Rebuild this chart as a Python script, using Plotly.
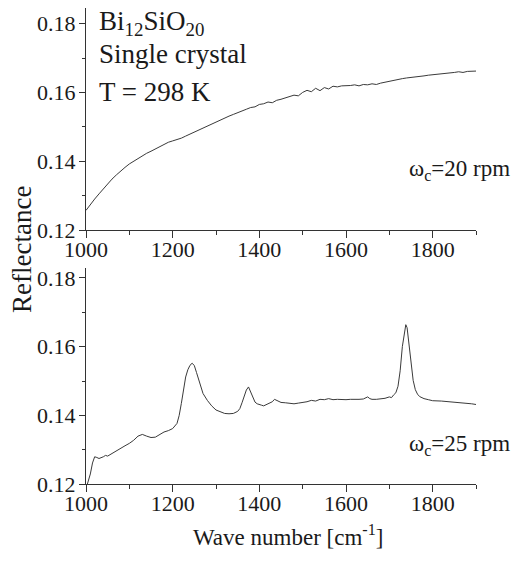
import plotly.graph_objects as go
from plotly.subplots import make_subplots

# top panel: omega_c = 20 rpm
wave_top = list(range(1000, 1901, 10))
refl_top = [
    0.1257, 0.1275, 0.1290, 0.1305, 0.1320, 0.1336, 0.1348, 0.1360, 0.1372, 0.1382,
    0.1392, 0.1400, 0.1408, 0.1416, 0.1423, 0.1429, 0.1436, 0.1442, 0.1448, 0.1455,
    0.1459, 0.1462, 0.1467, 0.1473, 0.1479, 0.1485, 0.1491, 0.1497, 0.1503, 0.1509,
    0.1513, 0.1519, 0.1525, 0.1531, 0.1536, 0.1542, 0.1546, 0.1551, 0.1556, 0.1558,
    0.1565, 0.1567, 0.1572, 0.1570, 0.1577, 0.1580, 0.1584, 0.1587, 0.1592, 0.1590,
    0.1600, 0.1606, 0.1602, 0.1612, 0.1605, 0.1614, 0.1610, 0.1618, 0.1616, 0.1619,
    0.1619, 0.1620, 0.1622, 0.1619, 0.1623, 0.1622, 0.1625, 0.1623, 0.1627, 0.1630,
    0.1633, 0.1636, 0.1637, 0.1640, 0.1642, 0.1643, 0.1645, 0.1647, 0.1648, 0.1650,
    0.1651, 0.1653, 0.1655, 0.1654, 0.1657, 0.1658, 0.1660, 0.1658, 0.1661, 0.1662,
    0.1662,
]

# bottom panel: omega_c = 25 rpm
wave_bot = [
    1003, 1010, 1015, 1020, 1025, 1030, 1040, 1045, 1050, 1055, 1060, 1070, 1080,
    1090, 1100, 1110, 1120, 1130, 1140, 1150, 1160, 1170, 1180, 1190, 1200, 1210,
    1215, 1220, 1225, 1230, 1235, 1240, 1245, 1250, 1255, 1260, 1265, 1270, 1280,
    1290, 1300, 1310, 1320, 1330, 1340, 1350, 1355, 1360, 1365, 1370, 1375, 1380,
    1385, 1390, 1395, 1400, 1405, 1410, 1420, 1430, 1435, 1440, 1450, 1460, 1470,
    1480, 1490, 1500, 1510, 1520, 1530, 1540, 1550, 1560, 1570, 1580, 1590, 1600,
    1610, 1620, 1630, 1640, 1650, 1655, 1660, 1670, 1680, 1690, 1700, 1705, 1710,
    1715, 1720, 1725, 1730, 1735, 1738, 1741, 1745, 1750, 1755, 1760, 1765, 1770,
    1780, 1790, 1800, 1820, 1840, 1850, 1860, 1880, 1890, 1900,
]
refl_bot = [
    0.1200, 0.1230, 0.1262, 0.1280, 0.1278, 0.1275, 0.1280, 0.1284, 0.1282, 0.1286,
    0.1290, 0.1298, 0.1305, 0.1312, 0.1319, 0.1328, 0.1340, 0.1345, 0.1340, 0.1336,
    0.1337, 0.1344, 0.1352, 0.1356, 0.1362, 0.1377, 0.1400, 0.1435, 0.1475, 0.1512,
    0.1533, 0.1546, 0.1552, 0.1545, 0.1525, 0.1502, 0.1482, 0.1464, 0.1444, 0.1428,
    0.1416, 0.1410, 0.1406, 0.1405, 0.1406, 0.1412, 0.1420, 0.1437, 0.1458, 0.1474,
    0.1483, 0.1468, 0.1450, 0.1439, 0.1434, 0.1433, 0.1430, 0.1428, 0.1433, 0.1440,
    0.1447, 0.1444, 0.1438, 0.1437, 0.1435, 0.1434, 0.1436, 0.1437, 0.1440, 0.1444,
    0.1442, 0.1447, 0.1446, 0.1449, 0.1446, 0.1447, 0.1446, 0.1446, 0.1447, 0.1446,
    0.1447, 0.1448, 0.1454, 0.1449, 0.1447, 0.1447, 0.1448, 0.1450, 0.1454, 0.1452,
    0.1460, 0.1466, 0.1485, 0.1530, 0.1600, 0.1650, 0.1664, 0.1655, 0.1615, 0.1550,
    0.1502, 0.1475, 0.1462, 0.1455, 0.1449, 0.1446, 0.1443, 0.1442, 0.1440, 0.1440,
    0.1438, 0.1436, 0.1434, 0.1432,
]

x_ticks = [1000, 1200, 1400, 1600, 1800]
y_ticks = [0.12, 0.14, 0.16, 0.18]

# the page body adds an 8 px margin, so the figure is drawn 8 px smaller
# and every screen position below is shifted back by that much
OFF = 8
W, H = 523 - OFF, 562 - OFF
L, R = 86 - OFF, 476 - OFF
FONT = 'Liberation Serif, Times New Roman, serif'
INK = '#1a1a1a'
PX_PER_002 = 68.8


def px(x):
    return (x - OFF - L) / (R - L)


def py(y):
    return 1 - (y - OFF) / H


fig = make_subplots(rows=2, cols=1)
fig.add_trace(go.Scatter(x=wave_top, y=refl_top, mode='lines',
                         line=dict(color='#3a3a3a', width=1)), row=1, col=1)
fig.add_trace(go.Scatter(x=wave_bot, y=refl_bot, mode='lines',
                         line=dict(color='#3a3a3a', width=1)), row=2, col=1)

axis_common = dict(
    showgrid=False, zeroline=False, showline=True, linecolor='#333',
    linewidth=1.3, ticks='outside', tickcolor='#333', tickwidth=1.2,
    tickfont=dict(family=FONT, size=22, color=INK), automargin=False,
)
for ax, (bottom, top) in [('', (230, OFF)), ('2', (484.3, 268))]:
    fig.update_layout(**{
        'xaxis' + ax: dict(
            axis_common, range=[1000, 1900], tickvals=x_ticks, ticklen=7,
            minor=dict(ticks='outside', ticklen=4, dtick=100,
                       tickcolor='#333', tickwidth=1.1),
            ticklabelstandoff=-8, anchor='y' + ax, domain=[0, 1]),
        'yaxis' + ax: dict(
            axis_common,
            range=[0.12, 0.12 + (bottom - top) / PX_PER_002 * 0.02],
            tickvals=y_ticks, tickformat='.2f', ticklen=6,
            minor=dict(ticks='outside', ticklen=3, dtick=0.01,
                       tickcolor='#333', tickwidth=1.1),
            ticklabelstandoff=-1, domain=[py(bottom), py(top)]),
    })

ann = [
    ('Bi<sub>12</sub>SiO<sub>20</sub>', 97, 23, 'left', 27),
    ('Single crystal', 97, 54, 'left', 27),
    ('T = 298 K', 97, 92, 'left', 27),
    ('\u03c9<sub>c</sub>=20 rpm', 512, 170, 'right', 23),
    ('\u03c9<sub>c</sub>=25 rpm', 512, 445, 'right', 23),
]
for text, x, y, xa, size in ann:
    fig.add_annotation(text=text, xref='paper', yref='paper', x=px(x), y=py(y),
                       xanchor=xa, yanchor='middle', showarrow=False,
                       font=dict(family=FONT, size=size, color=INK))

fig.add_annotation(text='Wave number [cm<sup>-1</sup>]', xref='paper',
                   yref='paper', x=px(288), y=py(535), xanchor='center',
                   yanchor='middle', showarrow=False,
                   font=dict(family=FONT, size=23, color=INK))
fig.add_annotation(text='Reflectance', xref='paper', yref='paper',
                   x=px(22), y=py(250), xanchor='center', yanchor='middle',
                   textangle=-90, showarrow=False,
                   font=dict(family=FONT, size=27, color=INK))

fig.update_layout(
    width=W, height=H, showlegend=False,
    margin=dict(l=L, r=W - R, t=0, b=0),
    paper_bgcolor='white', plot_bgcolor='white',
    font=dict(family=FONT, color=INK),
)
fig.write_html('out.html')
